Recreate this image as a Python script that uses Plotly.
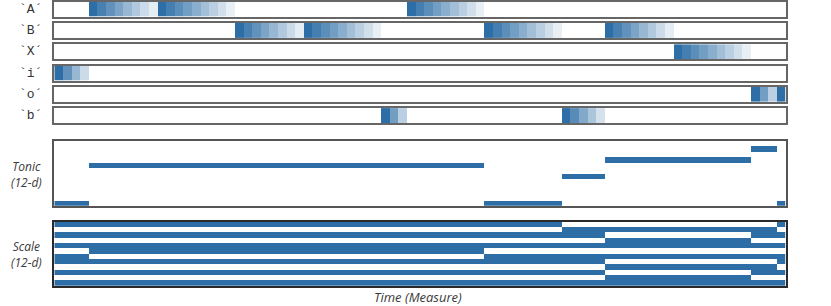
import plotly.graph_objects as go

# ---------------- data ----------------
n_measures = 85
measures = list(range(n_measures))

strip_labels = ['A', 'B', 'X', 'i', 'o', 'b']

# section structure (start measure, label)
section_starts = [0, 4, 12, 21, 29, 38, 41, 50, 59, 64, 72, 81, 84]
section_labels = ['i', 'A', 'A', 'B', 'B', 'b', 'A', 'B', 'b', 'B', 'X', 'o', 'o']

# fading intensity per measure
strength = [
    1.0, 0.75, 0.5, 0.25,                                   # i
    1.0, 0.875, 0.75, 0.625, 0.5, 0.375, 0.25, 0.125,        # A
    1.0, 0.89, 0.78, 0.67, 0.56, 0.44, 0.33, 0.22, 0.11,     # A
    1.0, 0.875, 0.75, 0.625, 0.5, 0.375, 0.25, 0.125,        # B
    1.0, 0.89, 0.78, 0.67, 0.56, 0.44, 0.33, 0.22, 0.11,     # B
    1.0, 0.67, 0.33,                                         # b
    1.0, 0.89, 0.78, 0.67, 0.56, 0.44, 0.33, 0.22, 0.11,     # A
    1.0, 0.89, 0.78, 0.67, 0.56, 0.44, 0.33, 0.22, 0.11,     # B
    1.0, 0.8, 0.6, 0.4, 0.2,                                 # b
    1.0, 0.875, 0.75, 0.625, 0.5, 0.375, 0.25, 0.125,        # B
    1.0, 0.89, 0.78, 0.67, 0.56, 0.44, 0.33, 0.22, 0.11,     # X
    1.0, 0.67, 0.33,                                         # o
    1.0,                                                     # o
]

# key segments
key_starts = [0, 4, 50, 59, 64, 81, 84]
tonic_values = [0, 7, 0, 5, 8, 10, 0]
scale_sets = [
    [0, 2, 4, 5, 7, 9, 11],
    [0, 2, 4, 6, 7, 9, 11],
    [0, 2, 4, 5, 7, 9, 11],
    [0, 2, 4, 5, 7, 9, 10],
    [0, 1, 3, 5, 7, 8, 10],
    [0, 2, 3, 5, 7, 9, 10],
    [0, 2, 4, 5, 7, 9, 11],
]
pitch_classes = list(range(12))

# ---------------- build matrices ----------------
def seg_index(starts, m):
    idx = 0
    for i, s in enumerate(starts):
        if s <= m:
            idx = i
    return idx

label_per_measure = [section_labels[seg_index(section_starts, m)] for m in measures]
key_idx = [seg_index(key_starts, m) for m in measures]

BLUE = 'rgb(46,110,166)'
cscale = [[0, '#ffffff'], [1, BLUE]]

W, H = 831, 306

def px(sx):
    return sx / W

def py(sy):
    return 1 - sy / H

xdom = [px(54.3), px(785.7)]

def ydom(top, bottom):
    return [py(bottom), py(top)]

fig = go.Figure()
layout = dict(width=W, height=H, margin=dict(l=0, r=0, t=0, b=0),
              paper_bgcolor='white', plot_bgcolor='white', showlegend=False)
annotations = []

# strips
for k, lab in enumerate(strip_labels):
    n = k + 1
    z = [[strength[m] if label_per_measure[m] == lab else 0 for m in measures]]
    xa = 'x' if n == 1 else f'x{n}'
    ya = 'y' if n == 1 else f'y{n}'
    fig.add_trace(go.Heatmap(z=z, x=measures, y=[0], colorscale=cscale, zmin=0, zmax=1,
                             showscale=False, xaxis=xa, yaxis=ya, hoverinfo='skip'))
    top = 1.6 + 21.3 * k
    bot = top + 15
    axx = 'xaxis' if n == 1 else f'xaxis{n}'
    axy = 'yaxis' if n == 1 else f'yaxis{n}'
    layout[axx] = dict(domain=xdom, anchor=ya, range=[-0.5, n_measures - 0.5],
                       showticklabels=False, ticks='', showgrid=False, zeroline=False,
                       showline=True, mirror=True, linecolor='#666666', linewidth=1.6)
    layout[axy] = dict(domain=ydom(top, bot), anchor=xa, range=[-0.5, 0.5],
                       showticklabels=False, ticks='', showgrid=False, zeroline=False,
                       showline=True, mirror=True, linecolor='#666666', linewidth=1.6)
    annotations.append(dict(text="`" + lab + "´", xref='paper', yref='paper',
                            x=px(44), y=py(top + 7.5), xanchor='right', yanchor='middle',
                            showarrow=False,
                            font=dict(family='Liberation Mono', size=13, color='#333333')))

# tonic
z_tonic = [[1 if tonic_values[key_idx[m]] == p else 0 for m in measures] for p in pitch_classes]
fig.add_trace(go.Heatmap(z=z_tonic, x=measures, y=pitch_classes, colorscale=cscale, zmin=0, zmax=1,
                         showscale=False, xaxis='x7', yaxis='y7', hoverinfo='skip'))
layout['xaxis7'] = dict(domain=xdom, anchor='y7', range=[-0.5, n_measures - 0.5],
                        showticklabels=False, ticks='', showgrid=False, zeroline=False,
                        showline=True, mirror=True, linecolor='#555555', linewidth=1.5)
layout['yaxis7'] = dict(domain=ydom(141, 205.7), anchor='x7', range=[-0.5, 11.5],
                        showticklabels=False, ticks='', showgrid=False, zeroline=False,
                        showline=True, mirror=True, linecolor='#555555', linewidth=1.5)
annotations.append(dict(text='<i>Tonic<br>(12-d)</i>', xref='paper', yref='paper',
                        x=px(26), y=py(174.5), xanchor='center', yanchor='middle',
                        showarrow=False, align='center',
                        font=dict(family='Open Sans', size=12, color='#3a3a3a')))

# scale
z_scale = [[1 if p in scale_sets[key_idx[m]] else 0 for m in measures] for p in pitch_classes]
fig.add_trace(go.Heatmap(z=z_scale, x=measures, y=pitch_classes, colorscale=cscale, zmin=0, zmax=1,
                         showscale=False, xaxis='x8', yaxis='y8', hoverinfo='skip'))
layout['xaxis8'] = dict(domain=xdom, anchor='y8', range=[-0.5, n_measures - 0.5],
                        showticklabels=False, ticks='', showgrid=False, zeroline=False,
                        showline=True, mirror=True, linecolor='#2a2a2a', linewidth=1.6)
layout['yaxis8'] = dict(domain=ydom(221.7, 286), anchor='x8', range=[-0.5, 11.5],
                        showticklabels=False, ticks='', showgrid=False, zeroline=False,
                        showline=True, mirror=True, linecolor='#2a2a2a', linewidth=1.6)
annotations.append(dict(text='<i>Scale<br>(12-d)</i>', xref='paper', yref='paper',
                        x=px(26), y=py(254.5), xanchor='center', yanchor='middle',
                        showarrow=False, align='center',
                        font=dict(family='Open Sans', size=12, color='#3a3a3a')))
annotations.append(dict(text='<i>Time (Measure)</i>', xref='paper', yref='paper',
                        x=px(418), y=py(297), xanchor='center', yanchor='middle',
                        showarrow=False,
                        font=dict(family='Open Sans', size=13, color='#3a3a3a')))

layout['annotations'] = annotations
fig.update_layout(**layout)
fig.write_html('out.html', config={'displayModeBar': False},
               post_script="document.body.style.margin='0';document.body.style.overflow='hidden';")
